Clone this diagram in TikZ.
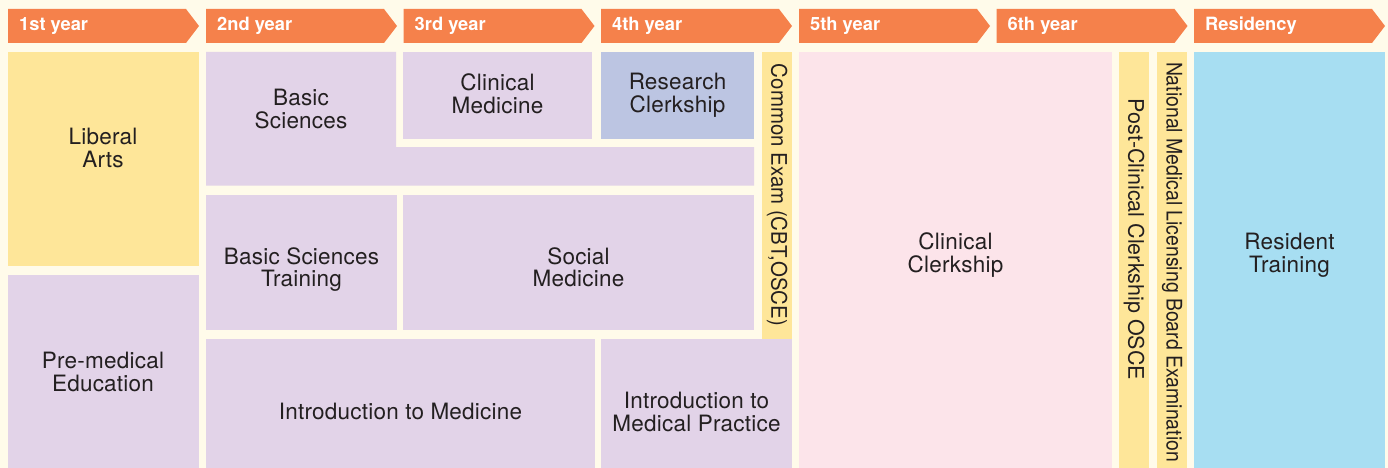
\documentclass[tikz,border=0pt]{standalone}
\usepackage{fontspec}
\setmainfont{TeX Gyre Heros}
\definecolor{bg}{HTML}{FFFBEA}
\definecolor{hdrorange}{HTML}{F5814B}
\definecolor{examyellow}{HTML}{FEE699}
\definecolor{lav}{HTML}{E2D3E8}
\definecolor{resblue}{HTML}{BCC5E2}
\definecolor{clinpink}{HTML}{FCE4EA}
\definecolor{rescyan}{HTML}{A7DEF2}
\definecolor{txt}{HTML}{231F20}
\begin{document}
\begin{tikzpicture}[x=1pt,y=-1pt,
  lbl/.style={font=\fontsize{22.5}{22.5}\selectfont\addfontfeature{LetterSpace=1}, text=txt, align=center, inner sep=0pt},
  vlbl/.style={font=\fontsize{21.5}{22}\selectfont, text=txt, inner sep=0pt, rotate=-90},
  hdr/.style={font=\bfseries\fontsize{18.3}{18}\selectfont, text=white, anchor=base west, inner sep=0pt},
  hdrarrow/.style={fill=hdrorange}]
\fill[bg] (0,0) rectangle (1388,468);
\useasboundingbox (0,0) rectangle (1388,468);
% headers
\foreach \x/\t/\n in {8/1st year/h1, 206/2nd year/h2, 403.5/3rd year/h3, 601/4th year/h4, 799/5th year/h5, 996.5/6th year/h6, 1194/Residency/h7}{
  \fill[hdrarrow] (\x,9) -- ++(178,0) -- ++(13,17) -- ++(-13,17) -- ++(-178,0) -- cycle;
  \node[hdr] (\n) at (\x+11,31) {\t};
}
% 1st year
\fill[examyellow] (8,52) rectangle (199,266);
\node[lbl] (liberal) at (103,148) {Liberal\\Arts};
\fill[lav] (8,275) rectangle (199,468);
\node[lbl] (premed) at (103,372) {Pre-medical\\Education};
% basic sciences L-shape
\fill[lav] (206,52) -- (396,52) -- (396,147) -- (754,147) -- (754,185.5) -- (206,185.5) -- cycle;
\node[lbl] (basic) at (301,109) {Basic\\Sciences};
\fill[lav] (403,52) rectangle (592,139);
\node[lbl] (clinmed) at (497.5,94) {Clinical\\Medicine};
\fill[resblue] (601,52) rectangle (754,139);
\node[lbl] (research) at (677.5,95.5) {Research\\Clerkship};
\fill[lav] (206,195) rectangle (397,330);
\node[lbl] (bst) at (301.5,269.5) {Basic Sciences\\Training};
\fill[lav] (403,195) rectangle (754,330);
\node[lbl] (social) at (578.5,267.5) {Social\\Medicine};
\fill[lav] (206,339) rectangle (595,468);
\node[lbl] (intromed) at (400.5,411.5) {Introduction to Medicine};
\fill[lav] (601,339) rectangle (792,468);
\node[lbl] (intropract) at (696.5,412) {Introduction to\\Medical Practice};
% common exam
\fill[examyellow] (762,52) rectangle (792,339);
\node[vlbl] (common) at (777,195) {\scalebox{0.95}[1]{Common Exam (CBT,OSCE)}};
% clinical clerkship
\fill[clinpink] (799,52) rectangle (1112,468);
\node[lbl] (clinclerk) at (955.5,255) {Clinical\\Clerkship};
\fill[examyellow] (1119,52) rectangle (1149,468);
\node[vlbl] (postosce) at (1134,239.5) {Post-Clinical Clerkship OSCE};
\fill[examyellow] (1157,52) rectangle (1187,468);
\node[vlbl] (national) at (1172,262) {\scalebox{0.903}[1]{National Medical Licensing Board Examination}};
% residency
\fill[rescyan] (1194,52) rectangle (1385,468);
\node[lbl] (resident) at (1289.5,255) {Resident\\Training};
\end{tikzpicture}
\end{document}
